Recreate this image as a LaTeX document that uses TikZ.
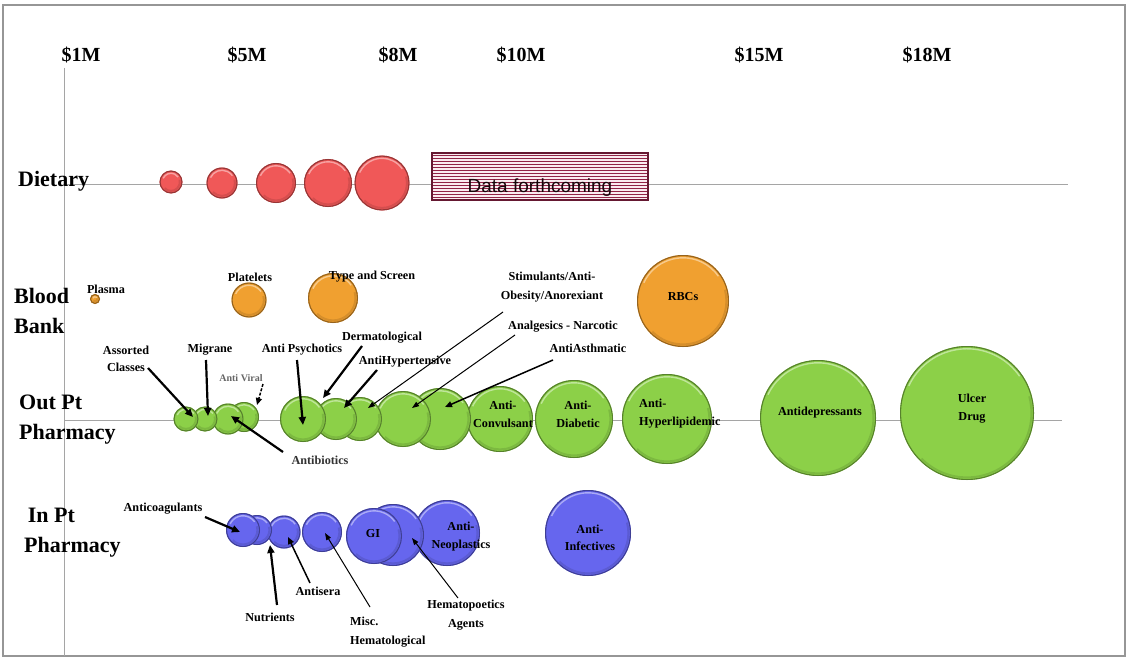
\documentclass[tikz,border=0pt]{standalone}
\usepackage{fontspec}
\setmainfont{Liberation Serif}
\newfontfamily\boxfont{Liberation Sans}
\usetikzlibrary{arrows.meta}

\definecolor{redb}{RGB}{240,88,88}
\definecolor{orangeb}{RGB}{240,160,48}
\definecolor{greenb}{RGB}{140,208,72}
\definecolor{blueb}{RGB}{102,102,238}
\definecolor{gridc}{RGB}{165,165,165}
\definecolor{framec}{RGB}{150,150,150}
\definecolor{stripec}{RGB}{145,35,70}
\definecolor{stripebg}{RGB}{250,236,240}

% a bevelled bubble: name, x, y, radius (pt), colour
\newcommand\drawbubble[5]{%
  \node[bubblenode, fill=#5, minimum size={2*#4pt}] (#1) at (#2,#3) {};
  \draw[#5!80!black, opacity=.55, line width=2pt] (#1.center) ++(-135:{#4pt-2.6pt})
    arc[start angle=-135, end angle=15, radius={#4pt-2.6pt}];
  \draw[white, opacity=.45, line width=1.4pt] (#1.center) ++(155:{#4pt-2.8pt})
    arc[start angle=155, end angle=35, radius={#4pt-2.8pt}];
  \draw[#5!62!black, line width=1.1pt] (#1.center) circle[radius={#4pt-0.55pt}];
}

\begin{document}
\begin{tikzpicture}[x=1pt,y=-1pt,
  bubblenode/.style={circle, inner sep=0pt, draw=none},
  gridline/.style={gridc, line width=1pt},
  axlbl/.style={font=\bfseries\fontsize{20}{22}\selectfont, inner sep=0pt},
  rowlbl/.style={font=\bfseries\fontsize{22}{30}\selectfont, align=left, anchor=west, inner sep=0pt},
  lbl/.style={font=\bfseries\fontsize{12.2}{17}\selectfont, align=center, inner sep=0pt},
  lblsoft/.style={lbl, text=black!60},
  arr/.style={-{Triangle[length=8pt,width=7pt]}, line width=2.2pt},
  arrmid/.style={-{Triangle[length=7pt,width=6pt]}, line width=1.5pt},
  arrthin/.style={-{Triangle[length=7pt,width=5pt]}, line width=1pt}]

\useasboundingbox (0,0) rectangle (1127,658);
\fill[white] (0,0) rectangle (1127,658);
\draw[framec, line width=1.5pt] (3,5) rectangle (1125,656);

% axes
\draw[gridline] (64,68) -- (64,656);
\draw[gridline] (64,184) -- (1068,184);
\draw[gridline] (64,420) -- (1062,420);

% cost scale
\node[axlbl] (t1)  at (81,55)  {\$1M};
\node[axlbl] (t5)  at (247,55) {\$5M};
\node[axlbl] (t8)  at (398,55) {\$8M};
\node[axlbl] (t10) at (521,55) {\$10M};
\node[axlbl] (t15) at (759,55) {\$15M};
\node[axlbl] (t18) at (927,55) {\$18M};

% row titles
\node[rowlbl] (rDiet)  at (18,181) {Dietary};
\node[rowlbl] (rBlood) at (14,311) {Blood\\Bank};
\node[rowlbl] (rOut)   at (19,420) {Out Pt\\Pharmacy};
\node[rowlbl] (rIn)    at (24,533) {\,In Pt\\Pharmacy};

% Dietary
\drawbubble{d5}{382}{183}{27.5}{redb}
\drawbubble{d4}{328}{183}{24}{redb}
\drawbubble{d3}{276}{183}{20}{redb}
\drawbubble{d2}{222}{183}{15.5}{redb}
\drawbubble{d1}{171}{182}{11.5}{redb}

\fill[stripebg] (432,153) rectangle (648,200);
\foreach \yy in {155,158,...,198} \draw[stripec, line width=0.85pt] (432,\yy) -- (648,\yy);
\draw[stripec!70!black, line width=1.3pt] (432,153) rectangle (648,200);
\node[font=\boxfont\fontsize{19}{22}\selectfont, text=black!85!stripec, inner sep=0pt] (dataBox) at (540,188) {Data forthcoming};

% Blood Bank
\drawbubble{bRBC}{683}{301}{46}{orangeb}
\drawbubble{bType}{333}{298}{25}{orangeb}
\drawbubble{bPlat}{249}{300}{17.5}{orangeb}
\drawbubble{bPlasma}{95}{299}{5}{orangeb}
\node[lbl] (lPlasma) at (106,289) {Plasma};
\node[lbl] (lPlat)   at (250,277) {Platelets};
\node[lbl] (lType)   at (372,277) {Type and Screen};
\node[lbl] (lRBC)    at (683,297) {RBCs};

% Out Pt Pharmacy
\drawbubble{oU}{967}{413}{67}{greenb}
\drawbubble{oDep}{818}{418}{58}{greenb}
\drawbubble{oL}{667}{419}{45}{greenb}
\drawbubble{oDi}{574}{419}{39}{greenb}
\drawbubble{oC}{500}{419}{33}{greenb}
\drawbubble{oN}{440}{419}{31}{greenb}
\drawbubble{oS}{403}{419}{28}{greenb}
\drawbubble{oH}{360}{419}{22}{greenb}
\drawbubble{oD}{336}{419}{21}{greenb}
\drawbubble{oP}{303}{419}{23}{greenb}
\drawbubble{oV}{244}{417}{15}{greenb}
\drawbubble{oB}{228}{419}{15.5}{greenb}
\drawbubble{oM}{205}{419}{12.5}{greenb}
\drawbubble{oA}{186}{419}{12.5}{greenb}

\node[lbl] (lAss)   at (126,359) {Assorted\\Classes};
\node[lbl] (lMig)   at (210,350) {Migrane};
\node[lblsoft, font=\bfseries\fontsize{10}{12}\selectfont] (lViral) at (241,378) {Anti Viral};
\node[lbl, text=black!80] (lBio) at (320,460) {Antibiotics};
\node[lbl] (lPsy)   at (302,350) {Anti Psychotics};
\node[lbl] (lDerm)  at (382,338) {Dermatological};
\node[lbl] (lHyp)   at (405,362) {AntiHypertensive};
\node[lbl, font=\bfseries\fontsize{12.2}{19}\selectfont] (lStim) at (552,287) {Stimulants/Anti-\\Obesity/Anorexiant};
\node[lbl] (lAnal)  at (563,327) {Analgesics - Narcotic};
\node[lbl] (lAsth)  at (588,348) {AntiAsthmatic};
\node[lbl, font=\bfseries\fontsize{12.2}{18}\selectfont] (lConv) at (503,414) {Anti-\\Convulsant};
\node[lbl, font=\bfseries\fontsize{12.2}{18}\selectfont] (lDiab) at (578,414) {Anti-\\Diabetic};
\node[lbl, font=\bfseries\fontsize{12.2}{18}\selectfont, align=left, anchor=west] (lLip) at (639,414) {Anti-\\Hyperlipidemic};
\node[lbl] (lDep)   at (820,413) {Antidepressants};
\node[lbl, font=\bfseries\fontsize{12.2}{18}\selectfont] (lUlc) at (972,409) {Ulcer\\Drug};

\draw[arr]     ([shift={(22,9)}]lAss.center)   -- ([shift={(7,-2)}]oA.center);
\draw[arr]     ([shift={(-4,10)}]lMig.center)  -- ([shift={(3,-3)}]oM.center);
\draw[arrmid, dash pattern=on 3pt off 1.5pt] ([shift={(22,6)}]lViral.center) -- ([shift={(13,-12)}]oV.center);
\draw[arr]     ([shift={(-37,-8)}]lBio.center) -- ([shift={(3,-3)}]oB.center);
\draw[arr]     ([shift={(-5,10)}]lPsy.center)  -- ([shift={(0,6)}]oP.center);
\draw[arr]     ([shift={(-20,8)}]lDerm.center) -- ([shift={(-13,-21)}]oD.center);
\draw[arr]     ([shift={(-28,8)}]lHyp.center)  -- ([shift={(-16,-11)}]oH.center);
\draw[arrthin] ([shift={(-49,25)}]lStim.center) -- ([shift={(8,-11)}]oH.center);
\draw[arrthin] ([shift={(-48,8)}]lAnal.center) -- ([shift={(9,-11)}]oS.center);
\draw[arrmid]  ([shift={(-35,12)}]lAsth.center) -- ([shift={(5,-12)}]oN.center);

% In Pt Pharmacy
\drawbubble{iInf}{588}{533}{43}{blueb}
\drawbubble{iNeo}{447}{533}{33}{blueb}
\drawbubble{iH}{393}{535}{31}{blueb}
\drawbubble{iG}{374}{536}{28}{blueb}
\drawbubble{iM}{322}{532}{20}{blueb}
\drawbubble{iS}{284}{532}{16.5}{blueb}
\drawbubble{iN}{257}{530}{15}{blueb}
\drawbubble{iA}{243}{530}{17}{blueb}

\node[lbl] (lCoag) at (163,509) {Anticoagulants};
\node[lbl] (lNut)  at (270,617) {Nutrients};
\node[lbl] (lSera) at (318,591) {Antisera};
\node[lbl, font=\bfseries\fontsize{12.2}{19}\selectfont, align=left, anchor=west] (lMisc) at (350,632) {Misc.\\Hematological};
\node[lbl, font=\bfseries\fontsize{12.2}{19}\selectfont] (lHem) at (466,615) {Hematopoetics\\Agents};
\node[lbl] (lGI)   at (373,534) {GI};
\node[lbl, font=\bfseries\fontsize{12.2}{18}\selectfont] (lNeo) at (461,537) {Anti-\\Neoplastics};
\node[lbl, font=\bfseries\fontsize{12.2}{17}\selectfont] (lInf) at (590,538) {Anti-\\Infectives};

\draw[arr]     ([shift={(42,8)}]lCoag.center)  -- ([shift={(-3,2)}]iA.center);
\draw[arr]     ([shift={(7,-12)}]lNut.center)  -- ([shift={(13,15)}]iN.center);
\draw[arrmid]  ([shift={(-8,-8)}]lSera.center) -- ([shift={(4,5)}]iS.center);
\draw[arrthin] ([shift={(20,-25)}]lMisc.west)  -- ([shift={(3,1)}]iM.center);
\draw[arrthin] ([shift={(-8,-17)}]lHem.center) -- ([shift={(19,3)}]iH.center);

\end{tikzpicture}
\end{document}
